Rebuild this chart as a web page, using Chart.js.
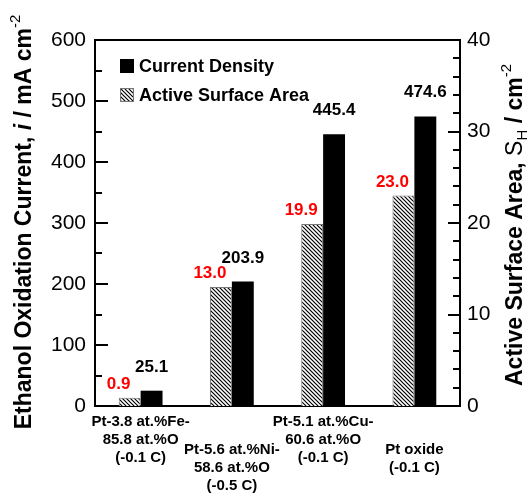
<!DOCTYPE html>
<html>
<head>
<meta charset="utf-8">
<script src="https://cdn.jsdelivr.net/npm/chart.js@4.4.0/dist/chart.umd.min.js"></script>
<style>
  html, body { margin: 0; padding: 0; background: #fff; }
  #wrap { width: 530px; height: 493px; }
</style>
</head>
<body>
<div id="wrap"><canvas id="ethanol-chart" width="530" height="493"></canvas></div>
<script>
// data
const categories = [
  ['Pt-3.8 at.%Fe-', '85.8 at.%O', '(-0.1 C)'],
  ['Pt-5.6 at.%Ni-', '58.6 at.%O', '(-0.5 C)'],
  ['Pt-5.1 at.%Cu-', '60.6 at.%O', '(-0.1 C)'],
  ['Pt oxide', '(-0.1 C)'],
]
const currentDensity = [25.1, 203.9, 445.4, 474.6]
const surfaceArea = [0.9, 13.0, 19.9, 23.0]
const currentTicks = [0, 100, 200, 300, 400, 500, 600]
const areaTicks = [0, 10, 20, 30, 40]

const FONT = "'Liberation Sans', Arial, sans-serif"

// hatch pattern for the surface area bars
function makeHatch() {
  const c = document.createElement('canvas')
  c.width = 4
  c.height = 4
  const g = c.getContext('2d')
  g.fillStyle = '#fff'
  g.fillRect(0, 0, 4, 4)
  g.strokeStyle = '#000'
  g.lineWidth = 1.2
  g.beginPath()
  g.moveTo(-1, -1)
  g.lineTo(5, 5)
  g.moveTo(-1, 3)
  g.lineTo(1, 5)
  g.moveTo(3, -1)
  g.lineTo(5, 1)
  g.stroke()
  return c
}
const ctx = document.querySelector('#ethanol-chart')
const hatch = ctx.getContext('2d').createPattern(makeHatch(), 'repeat')

// draws text pieces one after another (for super/subscripts and italics)
function drawRich(g, parts, cx, cy, angle) {
  g.save()
  g.translate(cx, cy)
  g.rotate(angle)
  let total = 0
  parts.forEach((p) => {
    g.font = p.font
    total += g.measureText(p.text).width
  })
  let x = -total / 2
  g.textBaseline = 'middle'
  g.textAlign = 'left'
  g.fillStyle = '#000'
  parts.forEach((p) => {
    g.font = p.font
    g.fillText(p.text, x, p.dy || 0)
    x += g.measureText(p.text).width
  })
  g.restore()
}

const decorations = {
  id: 'decorations',
  afterDatasetsDraw(chart) {
    const g = chart.ctx
    const area = chart.chartArea
    const yL = chart.scales.y
    const yR = chart.scales.y1
    const xs = chart.scales.x

    g.save()
    g.strokeStyle = '#000'
    g.lineWidth = 2
    // top frame
    g.beginPath()
    g.moveTo(area.left - 1, area.top)
    g.lineTo(area.right + 1, area.top)
    g.stroke()
    // inward ticks, left
    for (let v = 0; v <= 600; v += 50) {
      const y = Math.round(yL.getPixelForValue(v))
      const len = v % 100 === 0 ? 13 : 7
      g.beginPath()
      g.moveTo(area.left, y)
      g.lineTo(area.left + len, y)
      g.stroke()
    }
    // inward ticks, right
    for (let v = 0; v <= 40; v += 2) {
      const y = Math.round(yR.getPixelForValue(v))
      const len = v % 10 === 0 ? 12 : 7
      g.beginPath()
      g.moveTo(area.right, y)
      g.lineTo(area.right - len, y)
      g.stroke()
    }

    // value labels
    g.font = 'bold 17px ' + FONT
    g.textAlign = 'center'
    g.textBaseline = 'alphabetic'
    chart.getDatasetMeta(0).data.forEach((bar, i) => {
      g.fillStyle = '#ff0000'
      g.fillText(surfaceArea[i].toFixed(1), bar.x - 11, bar.y - 9)
    })
    chart.getDatasetMeta(1).data.forEach((bar, i) => {
      g.fillStyle = '#000'
      g.fillText(currentDensity[i].toFixed(1), bar.x, bar.y - 19)
    })

    // category labels, staggered
    g.font = 'bold 15px ' + FONT
    g.fillStyle = '#000'
    g.textBaseline = 'middle'
    categories.forEach((lines, i) => {
      const x = xs.getPixelForValue(i)
      const top = area.bottom + (i % 2 === 0 ? 16 : 44)
      lines.forEach((line, k) => {
        g.fillText(line, x, top + k * 18)
      })
    })

    // legend
    const lx = area.left + 25
    const ly = area.top + 19
    g.fillStyle = '#000'
    g.fillRect(lx, ly, 14, 14)
    g.fillStyle = hatch
    g.fillRect(lx, ly + 29, 14, 14)
    g.strokeStyle = '#777'
    g.lineWidth = 1
    g.strokeRect(lx + 0.5, ly + 29.5, 13, 13)
    g.fillStyle = '#000'
    g.textAlign = 'left'
    g.font = 'bold 18px ' + FONT
    g.fillText('Current Density', lx + 19, ly + 8)
    g.fillText('Active Surface Area', lx + 19, ly + 37)

    // axis titles
    const b = 'bold 23px ' + FONT
    const sup = 'bold 15px ' + FONT
    drawRich(g, [
      { text: 'Ethanol Oxidation Current, ', font: b },
      { text: 'i', font: 'italic bold 23px ' + FONT },
      { text: ' / mA cm', font: b },
      { text: '-2', font: '15px ' + FONT, dy: -9 },
    ], 25, 222, -Math.PI / 2)
    drawRich(g, [
      { text: 'Active Surface Area, ', font: b },
      { text: 'S', font: '23px ' + FONT },
      { text: 'H', font: '15px ' + FONT, dy: 7 },
      { text: ' / cm', font: b },
      { text: '-2', font: '15px ' + FONT, dy: -9 },
    ], 516, 225, -Math.PI / 2)
    g.restore()
  },
}

const chart = new Chart(ctx, {
  type: 'bar',
  data: {
    labels: categories,
    datasets: [
      {
        label: 'Active Surface Area',
        data: surfaceArea,
        yAxisID: 'y1',
        backgroundColor: hatch,
        borderColor: '#777',
        borderWidth: 1,
        categoryPercentage: 0.48,
        barPercentage: 1,
      },
      {
        label: 'Current Density',
        data: currentDensity,
        yAxisID: 'y',
        backgroundColor: '#000',
        borderWidth: 0,
        categoryPercentage: 0.48,
        barPercentage: 1,
      },
    ],
  },
  options: {
    responsive: false,
    animation: false,
    layout: {
      padding: { top: 40, left: 0, right: 0, bottom: 0 },
    },
    plugins: {
      legend: { display: false },
      tooltip: { enabled: false },
    },
    scales: {
      x: {
        grid: { display: false },
        border: { display: true, color: '#000', width: 2 },
        ticks: { display: false },
        afterFit: (scale) => {
          scale.height = 87
        },
      },
      y: {
        position: 'left',
        min: 0,
        max: 600,
        afterBuildTicks: (scale) => {
          scale.ticks = currentTicks.map((v) => ({ value: v }))
        },
        grid: { display: false, drawTicks: false },
        border: { display: true, color: '#000', width: 2 },
        ticks: {
          padding: 9,
          color: '#000',
          font: { family: FONT, size: 21 },
        },
        afterFit: (scale) => {
          scale.width = 95
        },
      },
      y1: {
        position: 'right',
        min: 0,
        max: 40,
        afterBuildTicks: (scale) => {
          scale.ticks = areaTicks.map((v) => ({ value: v }))
        },
        grid: { display: false, drawTicks: false },
        border: { display: true, color: '#000', width: 2 },
        ticks: {
          padding: 7,
          color: '#000',
          font: { family: FONT, size: 21 },
        },
        afterFit: (scale) => {
          scale.width = 70
        },
      },
    },
  },
  plugins: [decorations],
})
</script>
</body>
</html>
